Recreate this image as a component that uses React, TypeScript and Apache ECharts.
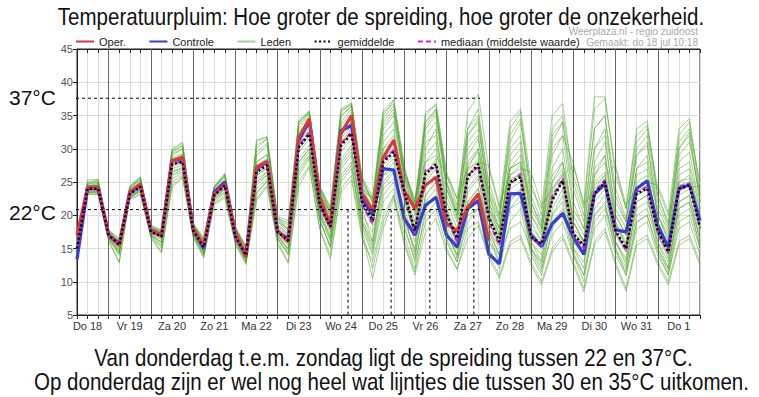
import React, { useEffect, useRef } from 'react';
import * as echarts from 'echarts';

const FONT = 'Liberation Sans, Arial, sans-serif';

// time axis: hours since Do 18 00:00, one point every 6 hours
const HOURS = [6, 12, 18, 24, 30, 36, 42, 48, 54, 60, 66, 72, 78, 84, 90, 96, 102, 108, 114, 120,
  126, 132, 138, 144, 150, 156, 162, 168, 174, 180, 186, 192, 198, 204, 210, 216, 222, 228, 234, 240,
  246, 252, 258, 264, 270, 276, 282, 288, 294, 300, 306, 312, 318, 324, 330, 336, 342, 348, 354, 360];
const DAY_LABELS = ['Do 18', 'Vr 19', 'Za 20', 'Zo 21', 'Ma 22', 'Di 23', 'Wo 24', 'Do 25', 'Vr 26', 'Za 27', 'Zo 28', 'Ma 29', 'Di 30', 'Wo 31', 'Do 1'];
const DAY_STARTS = [24, 48, 72, 96, 120, 144, 168, 192, 216, 240, 264, 288, 312, 336];

const OPER = [17, 24.2, 24.2, 17, 15.5, 23.5, 24.7, 17.8, 17, 28.2, 28.7, 18, 15.5, 23.2, 24.7, 17.5, 13.7, 27.2, 28.1,
  17.7, 16, 31.7, 34.5, 22.7, 18.5, 32.3, 35, 23.3, 20.7, 28.7, 31.3, 23.7, 21, 24.5, 25.7, 18.7, 17.7, 21.2, 23.2, 16.2];
const CONTROLE = [13.4, 24, 24, 17, 15.7, 23.3, 24.5, 17.8, 17, 28.2, 28.5, 18, 15, 23.5, 25, 17, 14, 27, 28,
  17.5, 16.5, 31.2, 34.2, 22, 18.5, 32.7, 33.5, 22.5, 20, 27, 26.8, 19.5, 17, 21.5, 22.7, 17, 15.2, 21, 22.2,
  14.2, 12.7, 23.2, 23.3, 17, 15.3, 18.7, 20.3, 16.7, 14.1, 23.2, 24.7, 17.8, 17.5, 24, 25.2, 18.5, 15.2, 24, 24.6, 19.2];
const GEMIDDELDE = [15, 24, 24, 17, 15.5, 23.2, 24.3, 17.5, 16.8, 27.7, 28, 17.7, 15.2, 23, 24.5, 16.8, 14, 26.5, 27.5,
  17.5, 16.2, 30.2, 32.2, 21.5, 18.3, 30.5, 32.3, 22, 19.2, 28, 29.5, 23.5, 17.7, 26.2, 27.7, 20.2, 16.5, 25.7, 27.7,
  19.7, 16, 25, 25.7, 16.7, 15.7, 22.2, 25.2, 17.2, 15.5, 23.2, 25, 17.7, 15, 23.2, 24, 17.7, 14.5, 24, 24.5, 18.2];
const MEDIAAN = [15, 24, 24, 17, 15.5, 23.3, 24.4, 17.5, 16.8, 27.8, 28.1, 17.7, 15.2, 23.1, 24.6, 16.8, 14, 26.8, 27.8,
  17.5, 16.1, 30.5, 32.5, 21.3, 18, 30.8, 32.5, 21.5, 18.7, 28.2, 29.8, 23, 17.2, 26.8, 27.2, 19.5, 16, 26, 27.3,
  19, 15.5, 24.5, 26.2, 16.5, 15.5, 22.8, 25.5, 17, 15, 23.5, 25.3, 17.5, 14.7, 23.5, 24.3, 17.5, 14.3, 24.3, 24.8, 18];

const LID_01 = [16.5, 24.5, 24.5, 17.2, 15.8, 23.6, 24.8, 17.8, 17.2, 28.5, 29, 18, 15.5, 23.5, 25, 17.2, 14.2, 27.5, 28.5, 18, 16.5, 32, 34.5, 22.5, 19, 33, 35, 23.5, 20.5, 31, 33, 24, 19, 29, 31, 22, 18, 29, 31.5, 22, 17, 27, 28, 18, 16.5, 25, 27, 19, 16, 26, 28, 19, 15.5, 25, 26, 19, 15, 26, 27, 19.5];
const LID_02 = [14, 23.5, 23.5, 16.5, 14.5, 22.8, 23.5, 17, 16, 26, 26.5, 17.2, 14.5, 22.5, 23.5, 16.2, 13.5, 25, 26, 17, 15, 28, 30, 20, 16.5, 27, 29, 19, 15, 24, 25.5, 20, 14, 22, 24, 18, 13.5, 21, 22.5, 17, 13, 21, 22, 15, 12.5, 19, 21, 15, 13, 20, 21.5, 16, 12.5, 20, 21, 16, 13, 21, 22, 16.5];
const LID_03 = [15.5, 24.3, 24.8, 17.5, 16, 24, 25.5, 18, 17.5, 29.5, 30.5, 18.5, 16, 24, 26, 18, 15, 30, 31.5, 19.5, 18, 34, 35.5, 24, 20.5, 35.5, 36.8, 25.5, 22, 35, 37.3, 27, 22, 34, 36, 25, 21, 35.5, 38.2, 27, 21, 34, 36, 25, 20, 33, 35, 26, 21, 36, 37.5, 27, 21, 32, 33.5, 24, 20, 33, 34.5, 24];
const LID_04 = [13.5, 23.2, 23.2, 16.2, 13, 22.5, 23.2, 16.8, 14.5, 24.5, 25.8, 16.8, 13.8, 21.8, 22.8, 15.8, 12.8, 22.5, 24.5, 16, 13, 25, 27.5, 18, 14, 24, 26, 17, 10.5, 18, 22.5, 15.5, 11, 17.5, 19.5, 14.5, 12, 16.5, 18.5, 13.5, 10.5, 15.5, 16.5, 12.5, 9.5, 14.5, 16.5, 12.5, 8.5, 15.5, 17.5, 12.5, 8.5, 15.5, 16.5, 12.5, 9.5, 15.5, 16.5, 12.5];
const LID_05 = [15, 24, 24.2, 17, 15.3, 23.2, 24.5, 17.6, 16.8, 27.8, 28.2, 17.7, 15, 23, 24.6, 16.8, 14, 26.5, 27.8, 17.3, 16, 30.5, 32.5, 21.5, 18, 30, 32, 22, 19, 28.5, 30, 23, 17.5, 26.5, 28, 20, 16, 25, 27, 19, 15.5, 24.5, 26, 17, 15.5, 22.5, 25, 17, 15, 23, 25, 17.5, 14.5, 23, 24, 18, 14.5, 24, 24.5, 18];
const LID_06 = [16, 24.8, 25.2, 17.8, 16.4, 24.2, 25.5, 18.3, 17.5, 29, 30, 18.6, 16.3, 24.2, 25.8, 17.8, 14.8, 29, 30.5, 19, 17.5, 33, 35, 23.5, 20, 34, 36, 24.5, 21, 32, 34, 26, 20, 30, 33, 21, 15, 22, 24, 18, 14, 21, 23, 16, 13, 20, 23, 16, 14, 21, 23, 16, 13, 22, 23, 16, 12, 22, 23, 16];
const LID_07 = [14.5, 23.8, 23.8, 16.8, 15, 23, 24, 17.3, 16.3, 27, 27.5, 17.5, 14.8, 22.8, 24.2, 16.5, 13.8, 25.5, 26.5, 17, 15.5, 28.5, 30.5, 20.5, 17, 28, 30, 20, 17.5, 24.5, 26.5, 21, 16, 24.5, 26, 19, 16.5, 27, 30, 21, 17, 29, 31, 20, 17, 29, 32, 21, 18, 30, 32, 20, 17, 27, 29, 20, 16, 28, 29.5, 21];
const LID_08 = [15.2, 24.1, 24, 16.9, 15.6, 23.4, 24.4, 17.5, 16.6, 27.5, 28.3, 17.8, 15.3, 23.3, 24.8, 17, 14.3, 26, 27.2, 17.6, 16.4, 30, 32, 22, 18.5, 31, 33, 21, 16, 26, 28, 22, 17, 35, 36.8, 26.5, 22.5, 33, 35, 25, 20, 30, 32, 21, 18, 27, 30, 19, 16, 28, 31, 21, 18, 29, 31, 20, 17, 30, 32, 22];
const LID_09 = [16.8, 25.3, 25.4, 17.6, 16.2, 24.4, 25.8, 18.5, 17.8, 30, 31, 18.8, 16.6, 24.4, 26.3, 18.3, 15.3, 31.3, 31.8, 19.8, 19.2, 34.3, 35.7, 24.2, 21.3, 36, 36.9, 25.8, 22.8, 35.8, 37.4, 27.5, 21, 31, 32, 23, 19, 30, 32, 21, 18, 27, 29, 20, 17.5, 26, 28, 20, 17, 27, 29, 19, 16, 26, 27, 18, 15, 25, 26, 20];
const LID_10 = [13.8, 23.1, 23.1, 16.1, 12.8, 22.4, 23.1, 16.6, 14.3, 24.2, 25.6, 16.6, 13.6, 21.6, 22.6, 15.6, 12.6, 22.2, 24.2, 15.6, 12.8, 24.3, 27.2, 17.8, 13.4, 23.5, 25.3, 16.5, 13, 20, 23, 17, 12, 21, 23, 16, 13, 20, 21, 16, 14, 18, 19, 15, 12, 17, 19, 14, 11, 18, 20, 14, 11, 18, 19, 14, 11, 18, 19, 14];
const LID_11 = [15.5, 24.4, 24.6, 17.3, 15.9, 23.8, 25, 17.9, 17.3, 28.8, 29.2, 18.2, 15.7, 23.8, 25.3, 17.5, 14.6, 28, 29, 18.5, 17, 31.5, 33.5, 23, 19.5, 32, 34, 23, 20, 33, 35, 25, 20.5, 32, 34, 24, 20, 32, 34, 23, 19, 31, 34, 24, 21, 35, 36.8, 25, 20, 33, 35, 22, 19, 30, 32, 22, 18, 29, 31, 23];
const LID_12 = [14.8, 23.6, 23.6, 16.6, 14.2, 22.7, 23.8, 17.1, 15.5, 26.5, 27, 17.2, 14.3, 22.4, 23.9, 16.3, 13.3, 24, 25.5, 16.5, 14.5, 27, 29, 19, 15.5, 26, 28, 18, 14, 22, 24, 18, 13.5, 23, 25, 17.5, 14, 23.5, 25.5, 18, 15, 24, 25, 16, 14, 21, 24, 16, 14, 22, 24, 16, 13.5, 21, 22, 17, 13.5, 22, 23, 17];
const LID_13 = [15.3, 24.2, 24.3, 17.1, 15.4, 23.3, 24.6, 17.7, 17, 28, 28.6, 17.9, 15.5, 23.2, 24.9, 17, 14.2, 27, 28, 19, 18, 31, 33, 23, 20.5, 31.5, 33.5, 24, 22.5, 30, 31, 26.5, 22.5, 28, 29, 26, 22.5, 27, 28, 27.5, 21.5, 26, 27, 26.5, 21.5, 24, 26, 27.5, 21.5, 24, 26, 27.5, 21.5, 24, 25, 24.5, 20.5, 23, 24, 24.5];
const LID_14 = [14.3, 23.4, 23.3, 16.4, 14, 22.6, 23.6, 16.9, 15, 25, 26, 17, 14, 22, 23.2, 16, 13, 23.5, 25, 16.5, 14, 26, 28.5, 19.5, 15, 25.5, 27.5, 17.5, 12, 19, 23, 16, 11.5, 19, 21, 15, 11.8, 18, 19, 14, 11, 16, 17, 13, 10, 15, 17, 13, 9, 16, 18, 13, 9, 16, 17, 13, 10, 16, 17, 13];
const LID_15 = [15.8, 24.6, 24.9, 17.4, 16, 23.9, 25.2, 18.1, 17.4, 29.3, 30, 18.4, 16.1, 24.1, 25.6, 17.9, 15.1, 29.5, 30.8, 19.3, 17.8, 33.5, 35.2, 23.8, 20.2, 34.8, 36.5, 24.8, 21.8, 34, 36, 26.5, 21.5, 33, 35, 24, 19.5, 28, 30, 23, 18, 27, 28, 22, 18, 30, 32, 27.8, 21.8, 37.8, 37.8, 26, 21, 33, 34.2, 23, 19, 31, 33, 25];
const LID_16 = [14.2, 23.3, 23.6, 16.7, 14.8, 22.9, 23.9, 17.2, 15.8, 26.2, 26.8, 17.4, 14.6, 22.7, 24, 16.4, 13.6, 24.5, 26, 16.8, 14.8, 27.5, 29.5, 20.5, 16.5, 28.5, 30.5, 19.5, 16, 26, 27, 19, 15, 25, 27, 18.5, 15, 24, 26, 16, 13, 22, 24, 15, 13, 23, 25, 15, 12, 23, 25, 15, 12, 22, 23, 15, 12, 21, 22, 15];
const LID_17 = [16.2, 25, 25.3, 17.7, 16.5, 24.3, 25.7, 18.4, 17.7, 29.8, 30.8, 18.7, 16.5, 24.3, 26.2, 18.2, 15.2, 31, 31.8, 19.6, 18.8, 34, 35.6, 24.3, 21, 35.8, 36.6, 25, 22.5, 34.5, 36.5, 26, 21.5, 35.5, 36.5, 26, 21.5, 33, 36, 24, 20, 33, 35.5, 23, 19, 31, 34, 24, 19, 33, 35, 24, 19.5, 31, 33, 23, 18.5, 32, 34, 23];
const LID_18 = [15.6, 24.2, 24.4, 17.2, 15.8, 23.5, 24.7, 17.8, 17, 28.2, 28.8, 18, 15.6, 23.4, 25, 17.2, 14.4, 27.5, 28.3, 18.2, 16.8, 31.5, 33.5, 22, 19, 32, 34, 23, 20, 30, 32, 24, 18, 28, 30, 21, 17, 27.5, 29.5, 20, 16.5, 26, 27.5, 17.5, 16, 24, 26.5, 18, 16, 25, 26.5, 18.5, 15.5, 24, 25, 18.5, 15, 25, 25.5, 19];
const LID_19 = [14.6, 23.7, 23.7, 16.7, 14.6, 22.9, 23.8, 17.2, 15.9, 26.6, 27.2, 17.3, 14.5, 22.6, 24, 16.4, 13.5, 25, 26.5, 16.8, 15, 28, 30, 20, 16, 27.5, 29.5, 19, 15.5, 25, 27, 20, 14.5, 23, 25, 17.5, 14, 22, 24, 17.5, 14, 22.5, 23.5, 14.5, 11.5, 20, 22, 14.5, 11, 20, 22, 14.5, 11.5, 19, 20, 14.5, 11, 19, 20, 15];
const LID_20 = [15.4, 24.3, 24.5, 17.2, 15.7, 23.6, 24.9, 17.9, 17.1, 28.4, 29, 18.1, 15.8, 23.7, 25.2, 17.4, 14.5, 28, 29.2, 18.6, 17.2, 32.5, 34.2, 23.2, 19.8, 33.5, 35.5, 24, 21, 33.5, 35.5, 25.5, 21, 33.5, 35.5, 24.5, 20.5, 31, 33, 23.5, 19.5, 32, 34.5, 22, 18.5, 32, 34, 22, 18, 30, 33, 23, 19, 29, 30.5, 21, 17.5, 30, 32.5, 22];
const LID_21 = [15, 24.1, 24.1, 17, 15.4, 23.2, 24.3, 17.5, 16.9, 27.6, 28, 17.7, 15.2, 23.1, 24.5, 16.8, 14.1, 26.3, 27.4, 17.5, 16.2, 30, 32, 21, 18, 30.5, 32.5, 22.5, 19.5, 27.5, 29, 23.5, 18, 26, 28.5, 20.5, 16.5, 26, 28, 20, 16, 25.5, 26, 16.5, 15, 22, 25.5, 17.5, 15.5, 23.5, 25.5, 17.5, 15, 23.5, 24.5, 17.5, 14.5, 24.5, 25, 18.5];
const LID_22 = [16.3, 24.7, 25, 17.6, 16.1, 24.1, 25.4, 18.2, 17.6, 29.6, 30.4, 18.5, 16.2, 24.2, 26, 18, 15, 30.5, 31.5, 19.5, 18.5, 33.8, 35.4, 24, 20.8, 35, 36.4, 25.5, 22, 35.5, 36.8, 26.5, 22, 34, 35.8, 25, 20, 32, 34.5, 22, 18, 28, 30, 19, 16, 25, 28, 19, 16, 26, 29, 20, 17, 27, 28, 20, 16.5, 27, 28, 20.5];
const LID_23 = [14.9, 23.9, 24, 16.9, 15.2, 23.1, 24.2, 17.4, 16.5, 27.3, 27.8, 17.6, 15, 22.9, 24.4, 16.7, 13.9, 26, 27, 17.2, 15.8, 29.5, 31.5, 21, 17.5, 29.5, 31.5, 21.5, 18.5, 27, 28.5, 22.5, 17, 25.5, 27.5, 20, 16, 26.5, 28.5, 20.5, 16.5, 25, 26.5, 17.5, 15.5, 23.5, 26, 17.5, 15.5, 24.5, 26, 17, 14.5, 23, 24, 17, 14, 23.5, 24.5, 18];
const LID_24 = [14.4, 23.5, 23.4, 16.5, 14.3, 22.7, 23.7, 17, 15.3, 25.5, 26.3, 17.1, 14.2, 22.2, 23.5, 16.1, 13.1, 23.2, 25.2, 16.4, 14.2, 26.5, 28.8, 19.2, 15.2, 25, 27, 18.5, 14.5, 23, 25, 18.5, 13, 20, 22, 16.5, 13, 19, 21, 15, 12, 19, 21, 14, 11, 18, 20.5, 14, 10, 19, 21, 15, 11, 19, 20, 15, 11.5, 20, 21, 15.5];
const LEDEN = [LID_01, LID_02, LID_03, LID_04, LID_05, LID_06, LID_07, LID_08, LID_09, LID_10, LID_11, LID_12,
  LID_13, LID_14, LID_15, LID_16, LID_17, LID_18, LID_19, LID_20, LID_21, LID_22, LID_23, LID_24];

// annotation guides (°C level and hour positions)
const GUIDE_37 = 37.6;
const GUIDE_22 = 20.85;
const GUIDE_FROM = 2;
const GUIDE_TO = 235;
const GUIDE_DROPS = [160, 184.5, 206.5, 231.5];

const pairs = (vals: number[]) => vals.map((v, i) => [HOURS[i], v]);

export default function App() {
  const ref = useRef<HTMLDivElement>(null);
  useEffect(() => {
    const chart = echarts.init(ref.current!, null, { renderer: 'svg' });
    const memberSeries = LEDEN.map((m) => ({
      type: 'line', name: 'Leden', data: pairs(m), symbol: 'none', z: 2,
      lineStyle: { color: 'rgba(75,162,35,0.5)', width: 1 },
      itemStyle: { color: 'rgba(75,162,35,0.5)' },
      silent: true,
    }));
    const guide = (data: number[][]) => ({
      type: 'line', name: 'guide', data, symbol: 'none', clip: false, z: 6, silent: true,
      lineStyle: { color: '#000', width: 1, type: [3, 3] },
    });
    const option: any = {
      animation: false,
      grid: { left: 77, right: 59, top: 49, bottom: 82, show: true, borderColor: '#222', borderWidth: 1, containLabel: false, outerBoundsMode: 'none' },
      legend: {
        data: ['Oper.', 'Controle', 'Leden', 'gemiddelde', 'mediaan (middelste waarde)'],
        left: 70, top: 31, itemWidth: 18, itemHeight: 10, itemGap: 22.5, selectedMode: false,
        itemStyle: { opacity: 0 },
        textStyle: { fontSize: 11, color: '#222', fontFamily: FONT },
      },
      xAxis: [{
        type: 'value', min: 6, max: 360, interval: 6,
        axisLine: { show: true, lineStyle: { color: '#222' } },
        axisTick: { show: true, length: 4, lineStyle: { color: '#222' } },
        axisLabel: {
          color: '#333', fontSize: 11, fontFamily: FONT, margin: 5,
          formatter: (v: number) => ((v - 12) % 24 === 0 ? DAY_LABELS[(v - 12) / 24] : ''),
        },
        splitLine: { show: true, lineStyle: { color: '#dcdcdc', width: 1 } },
      }, {
        type: 'value', min: 6, max: 360, interval: 6, position: 'top',
        axisLine: { show: true, lineStyle: { color: '#222' } },
        axisTick: { show: true, inside: true, length: 4, lineStyle: { color: '#222' } },
        axisLabel: { show: false }, splitLine: { show: false },
      }],
      yAxis: {
        type: 'value', min: 5, max: 45, interval: 5,
        axisLine: { show: true, lineStyle: { color: '#222' } },
        axisTick: { show: true, length: 4, lineStyle: { color: '#222' } },
        axisLabel: { color: '#555', fontSize: 11, fontFamily: FONT, margin: 4 },
        splitLine: { show: true, lineStyle: { color: '#dcdcdc', width: 1 } },
      },
      series: [
        {
          type: 'line', name: 'dagen', data: [], silent: true, z: 1,
          markLine: {
            silent: true, symbol: 'none', label: { show: false },
            lineStyle: { color: '#666', width: 1, type: 'solid' },
            data: DAY_STARTS.map((h) => ({ xAxis: h })),
          },
        },
        ...memberSeries,
        {
          type: 'line', name: 'Controle', data: pairs(CONTROLE), symbol: 'none', z: 3,
          lineStyle: { color: '#3240d0', width: 3.2 }, itemStyle: { color: '#3240d0' },
        },
        {
          type: 'line', name: 'Oper.', data: pairs(OPER), symbol: 'none', z: 4,
          lineStyle: { color: '#d63b3b', width: 3.2 }, itemStyle: { color: '#d63b3b' },
        },
        {
          type: 'line', name: 'mediaan (middelste waarde)', data: pairs(MEDIAAN), symbol: 'none', z: 5,
          lineStyle: { color: '#d21ed2', width: 2, type: [5, 3] }, itemStyle: { color: '#d21ed2' },
        },
        {
          type: 'line', name: 'gemiddelde', data: pairs(GEMIDDELDE), symbol: 'none', z: 5,
          lineStyle: { color: '#000', width: 2.5, type: [2, 2.5] }, itemStyle: { color: '#000' },
        },
        guide([[GUIDE_FROM, GUIDE_37], [GUIDE_TO, GUIDE_37]]),
        guide([[GUIDE_FROM, GUIDE_22], [GUIDE_TO, GUIDE_22]]),
        ...GUIDE_DROPS.map((h) => guide([[h, GUIDE_22], [h, 5]])),
      ],
      graphic: [
        { type: 'text', x: 381, y: 16.7, scaleX: 0.855, style: { text: 'Temperatuurpluim: Hoe groter de spreiding, hoe groter de onzekerheid.', fontSize: 24, fontFamily: FONT, fill: '#111', align: 'center', verticalAlign: 'middle' } },
        { type: 'text', x: 698, y: 31, style: { text: 'Weerplaza.nl - regio zuidoost', fontSize: 10, fontFamily: FONT, fill: '#aaa', align: 'right', verticalAlign: 'middle' } },
        { type: 'text', x: 698, y: 42, style: { text: 'Gemaakt: do 18 jul 10:18', fontSize: 10, fontFamily: FONT, fill: '#aaa', align: 'right', verticalAlign: 'middle' } },
        { type: 'text', x: 9, y: 97.5, style: { text: '37°C', fontSize: 21, fontFamily: FONT, fill: '#111', align: 'left', verticalAlign: 'middle' } },
        { type: 'text', x: 9, y: 212, style: { text: '22°C', fontSize: 21, fontFamily: FONT, fill: '#111', align: 'left', verticalAlign: 'middle' } },
        { type: 'text', x: 393.5, y: 357.7, scaleX: 0.855, style: { text: 'Van donderdag t.e.m. zondag ligt de spreiding tussen 22 en 37°C.', fontSize: 24, fontFamily: FONT, fill: '#111', align: 'center', verticalAlign: 'middle' } },
        { type: 'text', x: 391.5, y: 381.7, scaleX: 0.855, style: { text: 'Op donderdag zijn er wel nog heel wat lijntjes die tussen 30 en 35°C uitkomen.', fontSize: 24, fontFamily: FONT, fill: '#111', align: 'center', verticalAlign: 'middle' } },
      ],
    };
    chart.setOption(option);
    return () => chart.dispose();
  }, []);
  return <div ref={ref} style={{ position: 'fixed', left: 0, top: 0, width: 759, height: 397, background: '#fff' }} />;
}
